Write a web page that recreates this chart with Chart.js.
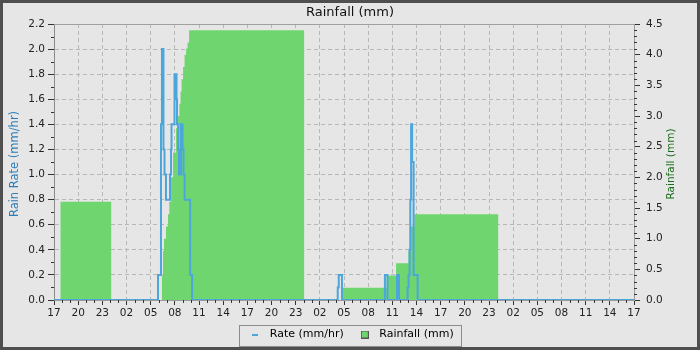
<!DOCTYPE html>
<html>
<head>
<meta charset="utf-8">
<script src="https://cdn.jsdelivr.net/npm/chart.js@4.4.0/dist/chart.umd.min.js"></script>
<style>
  html, body { margin: 0; padding: 0; background: #e6e6e6; }
</style>
</head>
<body>
<canvas id="chart" width="700" height="350"></canvas>
<script>
// hours counted from 17:00 on the first day
const startHour = 17;
const spanHours = 72;

// rain rate, mm/hr (each value holds from its hour on)
const rateHours = [0, 12.91, 13.28, 13.40, 13.59, 13.72, 13.90, 14.40, 14.53, 14.59, 14.96, 15.21, 15.27, 15.40, 15.52, 15.77, 15.96, 16.08, 16.21, 16.90, 17.14,
  35.22, 35.35, 35.75, 41.08, 41.40, 42.58, 42.83, 43.89, 44.01, 44.14, 44.23, 44.33, 44.45, 44.64, 45.14, 72];
const rateValues = [0, 0.2, 1.4, 2.0, 1.2, 1.0, 0.8, 1.0, 1.2, 1.4, 1.8, 1.6, 1.4, 1.2, 1.0, 1.4, 1.2, 1.0, 0.8, 0.2, 0,
  0.1, 0.2, 0, 0.2, 0, 0.2, 0, 0.1, 0.2, 0.4, 0.8, 1.4, 1.1, 0.2, 0, 0];

// daily rainfall total, mm
const rainHours = [0, 0.81, 7.1, 13.40, 13.53, 13.65, 13.90, 14.15, 14.31, 14.53, 14.78, 15.15, 15.40, 15.56, 15.71, 15.84, 16.02, 16.21, 16.40, 16.58, 16.77, 31.05,
  35.81, 41.3, 42.46, 44.01, 44.26, 44.74, 55.14, 72];
const rainValues = [0, 1.6, 0, 0.4, 0.8, 1.0, 1.2, 1.4, 1.6, 2.0, 2.4, 2.8, 3.0, 3.2, 3.4, 3.6, 3.8, 4.0, 4.1, 4.2, 4.4, 0,
  0.2, 0.4, 0.6, 0.8, 1.2, 1.4, 0, 0];

const rateMax = 2.2;
const rateStep = 0.2;
const rainMax = 4.5;
const rainStep = 0.5;

const rateColor = "#4ca6dc";
const rainColor = "#6fd66f";
const font = "'DejaVu Sans', sans-serif";

const pad2 = (n) => (n < 10 ? "0" : "") + n;

// small legend icons
function icon(w, h, fill, stroke) {
  const c = document.createElement("canvas");
  c.width = w;
  c.height = h;
  const g = c.getContext("2d");
  g.fillStyle = fill;
  g.fillRect(0, 0, w, h);
  if (stroke) {
    g.strokeStyle = stroke;
    g.strokeRect(0.5, 0.5, w - 1, h - 1);
  }
  return c;
}

const frame = {
  id: "frame",
  beforeDraw(chart) {
    const ctx = chart.ctx;
    ctx.save();
    ctx.fillStyle = "#e6e6e6";
    ctx.fillRect(0, 0, chart.width, chart.height);
    ctx.restore();
  },
  beforeDatasetsDraw(chart) {
    const { ctx, chartArea: a } = chart;
    ctx.save();
    ctx.strokeStyle = "#a0a0a0";
    ctx.lineWidth = 1;
    ctx.beginPath();
    ctx.moveTo(a.left, a.top + 0.5);
    ctx.lineTo(a.right, a.top + 0.5);
    ctx.stroke();
    ctx.restore();
  },
  afterDraw(chart) {
    const { ctx, chartArea: a, scales } = chart;
    ctx.save();
    // minor ticks
    ctx.strokeStyle = "#333";
    ctx.lineWidth = 1;
    ctx.beginPath();
    for (let h = 0; h <= spanHours; h++) {
      if (h % 3 === 0) continue;
      const x = Math.round(scales.x.getPixelForValue(h)) + 0.5;
      ctx.moveTo(x, a.bottom);
      ctx.lineTo(x, a.bottom + 3);
    }
    for (let i = 0; i <= 22; i++) {
      if (i % 2 === 0) continue;
      const y = Math.round(scales.y.getPixelForValue(i / 10)) + 0.5;
      ctx.moveTo(a.left - 3, y);
      ctx.lineTo(a.left, y);
    }
    for (let i = 0; i <= 45; i++) {
      if (i % 5 === 0) continue;
      const y = Math.round(scales.y1.getPixelForValue(i / 10)) + 0.5;
      ctx.moveTo(a.right, y);
      ctx.lineTo(a.right + 3, y);
    }
    ctx.stroke();

    // axis titles
    const mid = (a.top + a.bottom) / 2;
    ctx.textAlign = "center";
    ctx.textBaseline = "middle";
    ctx.save();
    ctx.translate(15, mid + 2);
    ctx.rotate(-Math.PI / 2);
    ctx.fillStyle = "#2a7db8";
    ctx.font = "11.5px " + font;
    ctx.fillText("Rain Rate (mm/hr)", 0, 0);
    ctx.restore();
    ctx.save();
    ctx.translate(671, mid + 2);
    ctx.rotate(-Math.PI / 2);
    ctx.fillStyle = "#1a6e1a";
    ctx.font = "10.5px " + font;
    ctx.fillText("Rainfall (mm)", 0, 0);
    ctx.restore();

    // legend box
    const boxes = chart.legend.legendHitBoxes;
    if (boxes && boxes.length) {
      const first = boxes[0];
      const last = boxes[boxes.length - 1];
      const l = Math.round(first.left - 7) + 0.5;
      const r = Math.round(last.left + last.width + 7) + 0.5;
      const t = Math.round(first.top - 4) + 0.5;
      const b = Math.round(first.top + first.height + 6) + 0.5;
      ctx.strokeStyle = "#8c8c8c";
      ctx.strokeRect(l, t, r - l, b - t);
    }

    // outer border
    ctx.strokeStyle = "#4f4f4f";
    ctx.lineWidth = 3;
    ctx.strokeRect(1.5, 1.5, chart.width - 3, chart.height - 3);
    ctx.restore();
  },
};

const ctx = document.getElementById("chart");

new Chart(ctx, {
  type: "line",
  data: {
    datasets: [
      {
        label: "Rate (mm/hr)",
        data: rateHours.map((h, i) => ({ x: h, y: rateValues[i] })),
        borderColor: rateColor,
        borderWidth: 2,
        pointRadius: 0,
        stepped: true,
        fill: false,
        yAxisID: "y",
      },
      {
        label: "Rainfall (mm)",
        data: rainHours.map((h, i) => ({ x: h, y: rainValues[i] })),
        borderWidth: 0,
        borderColor: rainColor,
        backgroundColor: rainColor,
        pointRadius: 0,
        stepped: true,
        fill: "origin",
        yAxisID: "y1",
      },
    ],
  },
  options: {
    responsive: false,
    animation: false,
    devicePixelRatio: 1,
    layout: { padding: 0 },
    scales: {
      x: {
        type: "linear",
        min: 0,
        max: spanHours,
        afterFit: (s) => { s.height = 17; },
        ticks: {
          stepSize: 3,
          autoSkip: false,
          maxRotation: 0,
          padding: 2,
          color: "#222",
          font: { family: font, size: 10.5 },
          callback: (v) => pad2((startHour + v) % 24),
        },
        grid: { color: "#b8b8b8", tickColor: "#333", tickLength: 5 },
        border: { color: "#9a9a9a", dash: [4, 3] },
      },
      y: {
        position: "left",
        min: 0,
        max: rateMax,
        afterFit: (s) => { s.width = 54; },
        ticks: {
          stepSize: rateStep,
          padding: 3,
          color: "#222",
          font: { family: font, size: 10.5 },
          callback: (v) => v.toFixed(1),
        },
        grid: { color: "#b8b8b8", tickColor: "#333", tickLength: 6 },
        border: { color: "#8a8a8a", dash: [4, 3] },
      },
      y1: {
        position: "right",
        min: 0,
        max: rainMax,
        afterFit: (s) => { s.width = 66; },
        ticks: {
          stepSize: rainStep,
          padding: 6,
          color: "#222",
          font: { family: font, size: 10.5 },
          callback: (v) => v.toFixed(1),
        },
        grid: { drawOnChartArea: false, tickColor: "#333", tickLength: 6 },
        border: { color: "#9a9a9a" },
      },
    },
    plugins: {
      title: {
        display: true,
        text: "Rainfall (mm)",
        color: "#111",
        font: { family: font, size: 13, weight: "normal" },
        padding: { top: 5, bottom: 3.4 },
      },
      legend: {
        position: "bottom",
        labels: {
          usePointStyle: true,
          pointStyleWidth: 18,
          boxHeight: 10,
          padding: 12,
          color: "#222",
          font: { family: font, size: 11 },
          generateLabels: () => [
            { text: "Rate (mm/hr)", pointStyle: icon(6, 2, rateColor), fillStyle: rateColor, strokeStyle: rateColor, lineWidth: 0, datasetIndex: 0 },
            { text: "Rainfall (mm)", pointStyle: icon(8, 8, rainColor, "#555"), fillStyle: rainColor, strokeStyle: "#555", lineWidth: 0, datasetIndex: 1 },
          ],
        },
      },
      tooltip: { enabled: false },
    },
  },
  plugins: [frame],
});
</script>
</body>
</html>
